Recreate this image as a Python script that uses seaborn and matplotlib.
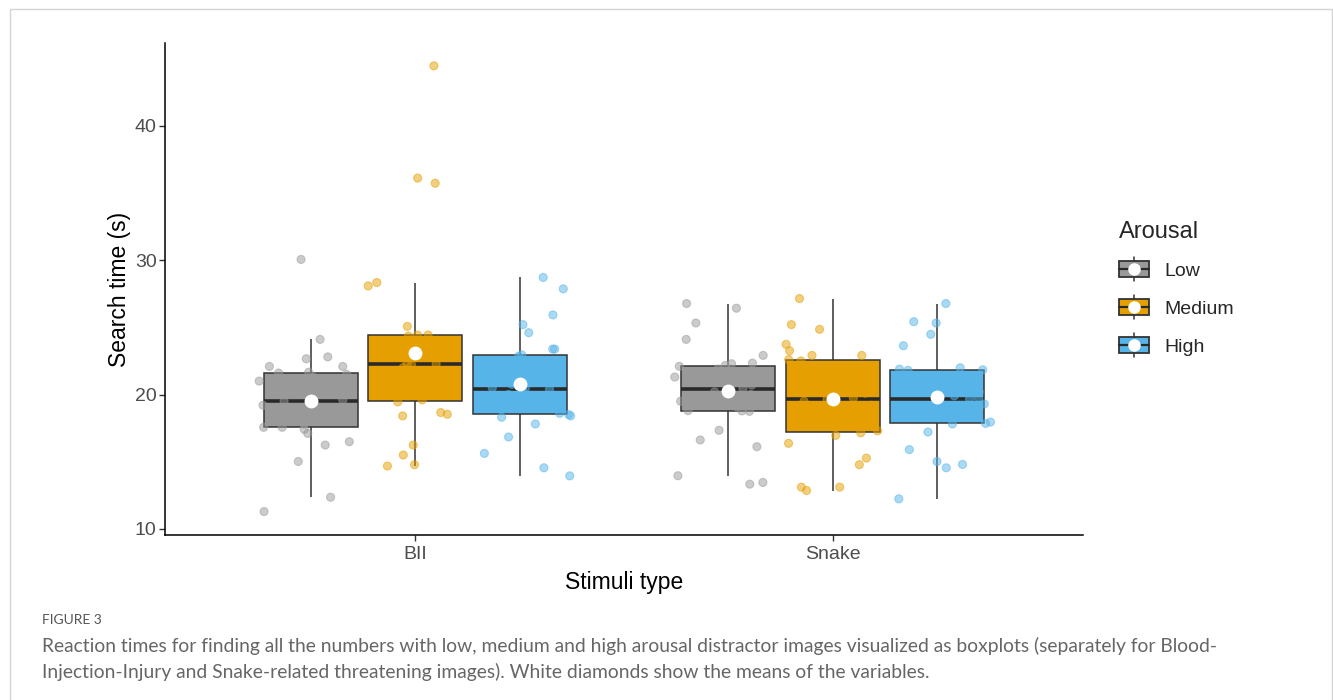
import numpy as np
import pandas as pd
import matplotlib
matplotlib.use("Agg")
import matplotlib.pyplot as plt
import seaborn as sns
from matplotlib.legend_handler import HandlerBase
from matplotlib.lines import Line2D
from matplotlib.patches import Rectangle, Patch

# ---------------- data ----------------
stimuli = ["BII", "Snake"]
arousal = ["Low", "Medium", "High"]
colors = ["#999999", "#E69F00", "#56B4E9"]

bii_low = [11.29, 12.36, 15.02, 16.24, 16.49, 17.11, 17.41, 17.56, 17.56, 17.8,
           18.2, 18.6, 18.9, 19.2, 19.5, 19.6, 20.1, 20.5, 20.8, 21.0,
           21.3, 21.5, 21.6, 21.66, 22.09, 22.09, 22.66, 22.8, 24.1, 30.05]
bii_medium = [14.68, 14.78, 15.5, 16.24, 18.41, 18.53, 18.66, 19.45, 19.6, 20.2,
              20.47, 21.2, 21.6, 22.0, 22.2, 22.28, 22.3, 23.0, 23.5, 23.7,
              23.78, 24.35, 24.43, 24.43, 25.07, 28.08, 28.33, 35.72, 36.1, 44.45]
bii_high = [13.95, 14.55, 15.62, 16.84, 17.81, 18.31, 18.41, 18.51, 18.6, 19.0,
            19.4, 19.7, 20.0, 20.2, 20.38, 20.45, 20.5, 20.75, 21.0, 21.5,
            22.2, 22.85, 22.95, 23.38, 23.38, 24.6, 25.2, 25.92, 27.86, 28.71]
snake_low = [13.33, 13.46, 13.96, 16.12, 16.62, 17.34, 18.75, 18.78, 18.8, 19.1,
             19.5, 19.8, 20.0, 20.2, 20.37, 20.47, 20.7, 21.0, 21.3, 21.6,
             21.9, 22.1, 22.16, 22.29, 22.34, 22.91, 24.1, 25.32, 26.42, 26.77]
snake_medium = [12.86, 13.11, 13.11, 14.78, 15.27, 16.37, 16.96, 17.15, 17.3, 18.06,
                18.43, 18.9, 19.2, 19.5, 19.65, 19.75, 20.1, 20.5, 20.8, 21.3,
                21.8, 22.5, 22.6, 22.91, 22.91, 23.26, 23.73, 24.85, 25.2, 27.14]
snake_high = [12.24, 14.55, 14.8, 15.02, 15.9, 17.21, 17.81, 17.85, 17.95, 18.3,
              18.7, 19.0, 19.3, 19.5, 19.65, 19.75, 19.9, 20.2, 20.5, 20.9,
              21.3, 21.8, 21.84, 21.89, 21.99, 23.63, 24.48, 25.32, 25.42, 26.77]

groups = {("BII", "Low"): bii_low, ("BII", "Medium"): bii_medium, ("BII", "High"): bii_high,
          ("Snake", "Low"): snake_low, ("Snake", "Medium"): snake_medium, ("Snake", "High"): snake_high}
rows = []
for (s, a), vals in groups.items():
    for v in vals:
        rows.append({"Stimuli": s, "Arousal": a, "Time": v})
df = pd.DataFrame(rows)

caption_head = "FIGURE 3"
caption_l1 = ("Reaction times for finding all the numbers with low, medium and high arousal distractor "
              "images visualized as boxplots (separately for Blood-")
caption_l2 = ("Injection-Injury and Snake-related threatening images). White diamonds show the means "
              "of the variables.")

# ---------------- style ----------------
sns.set_style("ticks")
plt.rcParams["font.family"] = ["Liberation Sans", "DejaVu Sans"]
edge = "#333333"
pal = dict(zip(arousal, colors))

fig = plt.figure(figsize=(13.33, 7.0), dpi=100)
ax = fig.add_axes([165 / 1333, 1 - 535 / 700, 918 / 1333, 492 / 700])

sns.boxplot(data=df, x="Stimuli", y="Time", hue="Arousal", order=stimuli, hue_order=arousal,
            palette=pal, width=0.75, gap=0.1, showfliers=False, showcaps=False,
            linecolor=edge, linewidth=1.1, saturation=1,
            medianprops=dict(linewidth=2.6, color="#2a2a2a"),
            whiskerprops=dict(linewidth=1.1, color=edge),
            legend=False, ax=ax)

np.random.seed(7)
sns.stripplot(data=df, x="Stimuli", y="Time", hue="Arousal", order=stimuli, hue_order=arousal,
              palette=pal, dodge=True, jitter=0.34, size=5.8, alpha=0.5, linewidth=0.8,
              edgecolor="face", legend=False, zorder=3, ax=ax)

sns.pointplot(data=df, x="Stimuli", y="Time", hue="Arousal", order=stimuli, hue_order=arousal,
              palette={a: "white" for a in arousal}, estimator="mean", errorbar=None,
              dodge=0.5, linestyle="none", markers="o", markersize=10, markeredgewidth=0,
              legend=False, zorder=5, ax=ax)

ax.set_xlim(-0.6, 1.6)
ax.set_ylim(9.55, 46.15)
ax.set_yticks([10, 20, 30, 40])
for side in ["top", "right"]:
    ax.spines[side].set_visible(False)
for side in ["left", "bottom"]:
    ax.spines[side].set_linewidth(1.1)
    ax.spines[side].set_color("black")
ax.tick_params(axis="both", length=4, width=1.0, color=edge, labelsize=14, labelcolor="#4D4D4D")
ax.tick_params(axis="y", pad=2)
ax.tick_params(axis="x", pad=4)
ax.set_xlabel("Stimuli type", fontsize=16.5, color="black", labelpad=6)
ax.set_ylabel("Search time (s)", fontsize=16.5, color="black", labelpad=3)

# ---------------- legend ----------------
class BoxKey(HandlerBase):
    def create_artists(self, legend, orig_handle, xdescent, ydescent, width, height, fontsize, trans):
        cx = width / 2 - xdescent
        cy = height / 2 - ydescent
        bh = height * 0.7
        whisk = Line2D([cx, cx], [cy - height * 0.52, cy + height * 0.52], color=edge, lw=1.1,
                       transform=trans)
        rect = Rectangle((-xdescent, cy - bh / 2), width, bh, facecolor=orig_handle.get_facecolor(),
                         edgecolor=edge, lw=1.3, transform=trans)
        med = Line2D([-xdescent, width - xdescent], [cy, cy], color="#2a2a2a", lw=1.6, transform=trans)
        dot = Line2D([cx], [cy], marker="o", ms=8, color="white", mec="white", lw=0, transform=trans)
        return [whisk, rect, med, dot]

handles = [Patch(facecolor=c) for c in colors]
leg = fig.legend(handles, arousal, handler_map={Patch: BoxKey()}, title="Arousal",
                 loc="upper left", bbox_to_anchor=(1119 / 1333, 1 - 221 / 700), frameon=False,
                 fontsize=14, title_fontsize=17, handlelength=1.55, handleheight=1.45,
                 labelspacing=0.76, handletextpad=0.8, borderpad=0, borderaxespad=0)
leg._legend_box.align = "left"

# ---------------- caption and frame ----------------
fig.patches.append(Rectangle((10 / 1333, -0.02), 1322 / 1333, 1.02 - 9 / 700, transform=fig.transFigure,
                             fill=False, edgecolor="#d4d4d4", linewidth=1.0))
fig.text(42 / 1333, 1 - 620 / 700, caption_head, fontsize=10, color="#555555", family=["Lato", "DejaVu Sans"],
         va="center", ha="left")
fig.text(42 / 1333, 1 - 646 / 700, caption_l1, fontsize=13.9, color="#666666", family=["Lato", "DejaVu Sans"],
         va="center", ha="left")
fig.text(42 / 1333, 1 - 672 / 700, caption_l2, fontsize=13.9, color="#666666", family=["Lato", "DejaVu Sans"],
         va="center", ha="left")

fig.savefig("out.png", dpi=100, facecolor="white")
